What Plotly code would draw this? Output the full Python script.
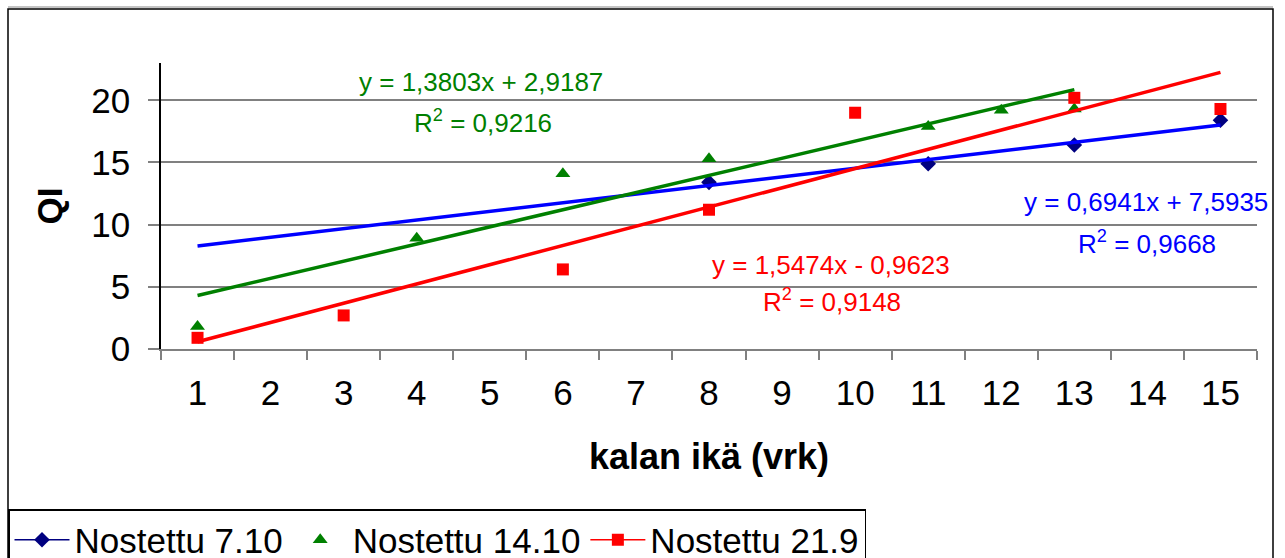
import plotly.graph_objects as go

# Fish age categories (days) and QI scores per sampling batch
days = list(range(1, 16))
tick_labels = [str(d) for d in days]

qi_7_10 = [None, None, None, None, None, None, None, 13.4, None, None, 14.9, None, 16.4, None, 18.4]
qi_14_10 = [1.8, None, None, 8.9, None, 14.1, None, 15.3, None, None, 17.9, 19.2, 19.3, None, None]
qi_21_9 = [0.9, None, 2.7, None, None, 6.4, None, 11.2, None, 19.0, None, None, 20.2, None, 19.3]

series_names = ["Nostettu 7.10", "Nostettu 14.10", "Nostettu 21.9"]

# Linear trendline parameters: slope, intercept, R², x-span
trend_slope = [0.6941, 1.3803, 1.5474]
trend_intercept = [7.5935, 2.9187, -0.9623]
trend_r2 = [0.9668, 0.9216, 0.9148]
trend_span = [(1, 15), (1, 13), (1, 15)]

FONT = "Liberation Sans, Arial, sans-serif"

# Plot-area geometry in pixels (for placing page-level items)
W, H = 1285, 558
PL, PR, PT, PB = 161, 1257, 63, 349


def px_x(p):
    return (p - PL) / (PR - PL)


def px_y(p):
    return (PB - p) / (PB - PT)


def fmt(v):
    return f"{abs(v):.4f}".replace(".", ",")


fig = go.Figure()

marker_styles = [
    dict(symbol="diamond", color="#000080", size=12),
    dict(symbol="triangle-up", color="#008000", size=13),
    dict(symbol="square", color="#FF0000", size=12),
]
line_colors = ["#000080", None, "#FF0000"]
trend_colors = ["#0000FF", "#008000", "#FF0000"]

for vals, name, mk, lc in zip([qi_7_10, qi_14_10, qi_21_9], series_names, marker_styles, line_colors):
    fig.add_trace(go.Scatter(
        x=days, y=vals, name=name,
        mode="lines+markers" if lc else "markers",
        line=dict(color=lc, width=1.5) if lc else None,
        marker=mk, connectgaps=False,
    ))

for m, b, (x0, x1), c in zip(trend_slope, trend_intercept, trend_span, trend_colors):
    fig.add_trace(go.Scatter(
        x=[x0, x1], y=[m * x0 + b, m * x1 + b], mode="lines",
        line=dict(color=c, width=3.5), showlegend=False, hoverinfo="skip",
    ))

# Trendline equation labels (pixel centres of each two-line label)
label_pos = [(1146, 202, 1147, 242), (481, 82, 483, 121), (831, 265, 832, 300)]
for m, b, r2, c, (ex, ey, rx, ry) in zip(trend_slope, trend_intercept, trend_r2, trend_colors, label_pos):
    sign = "+" if b >= 0 else "-"
    fig.add_annotation(x=px_x(ex), y=px_y(ey), xref="paper", yref="paper",
                       text=f"y = {fmt(m)}x {sign} {fmt(b)}", showarrow=False,
                       font=dict(family=FONT, size=26, color=c), xanchor="center", yanchor="middle")
    fig.add_annotation(x=px_x(rx), y=px_y(ry), xref="paper", yref="paper",
                       text=f"R<sup>2</sup> = {fmt(r2)}", showarrow=False,
                       font=dict(family=FONT, size=26, color=c), xanchor="center", yanchor="middle")

# Chart frame
fig.add_shape(type="rect", xref="paper", yref="paper",
              x0=px_x(8), x1=px_x(1273), y0=px_y(575), y1=px_y(9),
              line=dict(color="black", width=1.5), layer="below")
fig.add_shape(type="line", xref="paper", yref="paper",
              x0=px_x(8), x1=px_x(1273), y0=px_y(7), y1=px_y(7),
              line=dict(color="#B0B0B0", width=1.5), layer="below")

fig.update_layout(
    width=W, height=H,
    margin=dict(l=PL, r=W - PR, t=PT, b=H - PB),
    paper_bgcolor="white", plot_bgcolor="white",
    font=dict(family=FONT, size=35, color="black"),
    showlegend=True,
    legend=dict(
        orientation="h", xref="container", yref="container",
        x=8 / W, y=1 - 509 / H, xanchor="left", yanchor="top",
        bordercolor="black", borderwidth=1.5, bgcolor="white",
        font=dict(family=FONT, size=35, color="black"),
        itemwidth=55, tracegroupgap=0,
    ),
    xaxis=dict(
        range=[0.5, 15.5], tickvals=days, ticktext=tick_labels,
        ticks="", showgrid=False, zeroline=False,
        showline=True, linecolor="#808080", linewidth=1.5,
        tickfont=dict(size=35), ticklabelstandoff=12,
        minor=dict(tickvals=[d - 0.5 for d in days] + [15.5], ticks="outside",
                   ticklen=9, tickcolor="#808080", tickwidth=1.5, showgrid=False),
        title=dict(text="<b>kalan ikä (vrk)</b>", font=dict(size=36), standoff=33),
    ),
    yaxis=dict(
        range=[0, 23], tickvals=[0, 5, 10, 15, 20],
        ticks="outside", ticklen=11, tickcolor="#808080", tickwidth=1.5,
        showgrid=True, gridcolor="#808080", gridwidth=1.5, zeroline=False,
        showline=True, linecolor="black", linewidth=1.5,
        tickfont=dict(size=35), ticklabelstandoff=11,
        title=dict(text="<b>QI</b>", font=dict(size=35), standoff=18),
    ),
)

fig.write_html("out.html")
